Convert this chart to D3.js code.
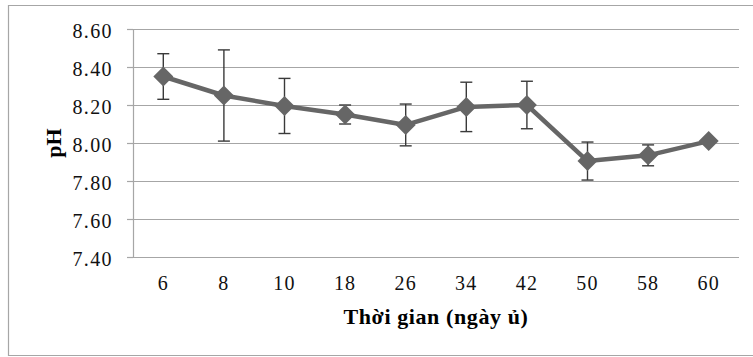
<!DOCTYPE html>
<html>
<head>
<meta charset="utf-8">
<script src="https://cdn.jsdelivr.net/npm/d3@7"></script>
<style>
  html, body { margin: 0; padding: 0; background: #fff; }
  svg { display: block; }
</style>
</head>
<body>
<div id="chart"></div>
<script>
// categories (days of composting)
const days = ['6', '8', '10', '18', '26', '34', '42', '50', '58', '60']
// mean pH
const phValues = [8.35, 8.25, 8.195, 8.15, 8.095, 8.19, 8.20, 7.905, 7.935, 8.01]
// error (± std dev)
const phErrors = [0.12, 0.24, 0.145, 0.05, 0.11, 0.13, 0.125, 0.10, 0.055, 0]
const yTicks = [7.40, 7.60, 7.80, 8.00, 8.20, 8.40, 8.60]

const width = 753
const height = 357
const margin = { top: 29, right: 14, bottom: 100, left: 133 }
const innerW = width - margin.left - margin.right
const innerH = height - margin.top - margin.bottom
const FONT = '"Liberation Serif"'

const data = days.map((d, i) => ({ day: d, value: phValues[i], err: phErrors[i] }))

const svg = d3.select('#chart')
  .append('svg')
  .attr('width', width)
  .attr('height', height)

// outer frame (no right edge visible in the source)
svg.append('path')
  .attr('d', `M${width},5.5 H8.5 V355.5 H${width}`)
  .attr('fill', 'none')
  .attr('stroke', '#a6a6a6')
  .attr('stroke-width', 1.2)

const g = svg.append('g')
  .attr('transform', `translate(${margin.left}, ${margin.top})`)

const x = d3.scaleBand()
  .domain(days)
  .range([0, innerW])

const y = d3.scaleLinear()
  .domain([7.4, 8.6])
  .range([innerH, 0])

// y axis
const yAxis = d3.axisLeft(y)
  .tickValues(yTicks)
  .tickFormat(d3.format('.2f'))
  .tickSize(6)
  .tickPadding(14)

g.append('g')
  .attr('class', 'yAxis')
  .call(yAxis)
  .call(s => s.select('.domain').remove())
  .call(s => s.selectAll('.tick line').attr('stroke', '#a6a6a6').attr('stroke-width', 1.2))
  .call(s => s.selectAll('.tick text')
    .attr('font-size', 20)
    .attr('dy', '0.42em')
    .attr('letter-spacing', 1.4)
    .attr('fill', '#111'))

// gridlines
g.append('g')
  .selectAll('line')
  .data(yTicks)
  .join('line')
  .attr('x1', 0)
  .attr('x2', innerW)
  .attr('y1', d => Math.round(y(d)) + 0.5)
  .attr('y2', d => Math.round(y(d)) + 0.5)
  .attr('stroke', '#a6a6a6')
  .attr('stroke-width', 1.2)

g.append('line')
  .attr('x1', 0.5).attr('x2', 0.5)
  .attr('y1', 0).attr('y2', innerH)
  .attr('stroke', '#a6a6a6')
  .attr('stroke-width', 1.2)

// x axis labels
const xAxis = d3.axisBottom(x).tickSize(0).tickPadding(19)
g.append('g')
  .attr('class', 'xAxis')
  .attr('transform', `translate(0, ${innerH})`)
  .call(xAxis)
  .call(s => s.select('.domain').remove())
  .call(s => s.selectAll('.tick text')
    .attr('font-size', 20)
    .attr('letter-spacing', 1.2)
    .attr('fill', '#111'))

const cx = d => x(d.day) + x.bandwidth() / 2

// error bars
const eb = g.append('g')
  .selectAll('g')
  .data(data.filter(d => d.err > 0))
  .join('g')
  .attr('stroke', '#3a3a3a')
  .attr('stroke-width', 1.4)

eb.append('line')
  .attr('x1', cx).attr('x2', cx)
  .attr('y1', d => y(d.value + d.err))
  .attr('y2', d => y(d.value - d.err))
eb.append('line')
  .attr('x1', d => cx(d) - 6).attr('x2', d => cx(d) + 6)
  .attr('y1', d => y(d.value + d.err))
  .attr('y2', d => y(d.value + d.err))
eb.append('line')
  .attr('x1', d => cx(d) - 6).attr('x2', d => cx(d) + 6)
  .attr('y1', d => y(d.value - d.err))
  .attr('y2', d => y(d.value - d.err))

// line
const line = d3.line()
  .x(cx)
  .y(d => y(d.value))

g.append('path')
  .datum(data)
  .attr('d', line)
  .attr('fill', 'none')
  .attr('stroke', '#666666')
  .attr('stroke-width', 4.5)
  .attr('stroke-linejoin', 'round')

// diamond markers
g.append('g')
  .selectAll('path')
  .data(data)
  .join('path')
  .attr('transform', d => `translate(${cx(d)}, ${y(d.value)})`)
  .attr('d', 'M0,-10 L10,0 L0,10 L-10,0 Z')
  .attr('fill', '#666666')

// axis titles
svg.append('text')
  .attr('x', margin.left + innerW / 2)
  .attr('y', 324)
  .attr('text-anchor', 'middle')
  .attr('font-size', 22)
  .attr('font-weight', 'bold')
  .attr('letter-spacing', 0.6)
  .text('Thời gian (ngày ủ)')

svg.append('text')
  .attr('transform', `translate(61, 143) rotate(-90)`)
  .attr('text-anchor', 'middle')
  .attr('font-size', 22)
  .attr('font-weight', 'bold')
  .text('pH')

svg.selectAll('text').style('font-family', FONT)
</script>
</body>
</html>
